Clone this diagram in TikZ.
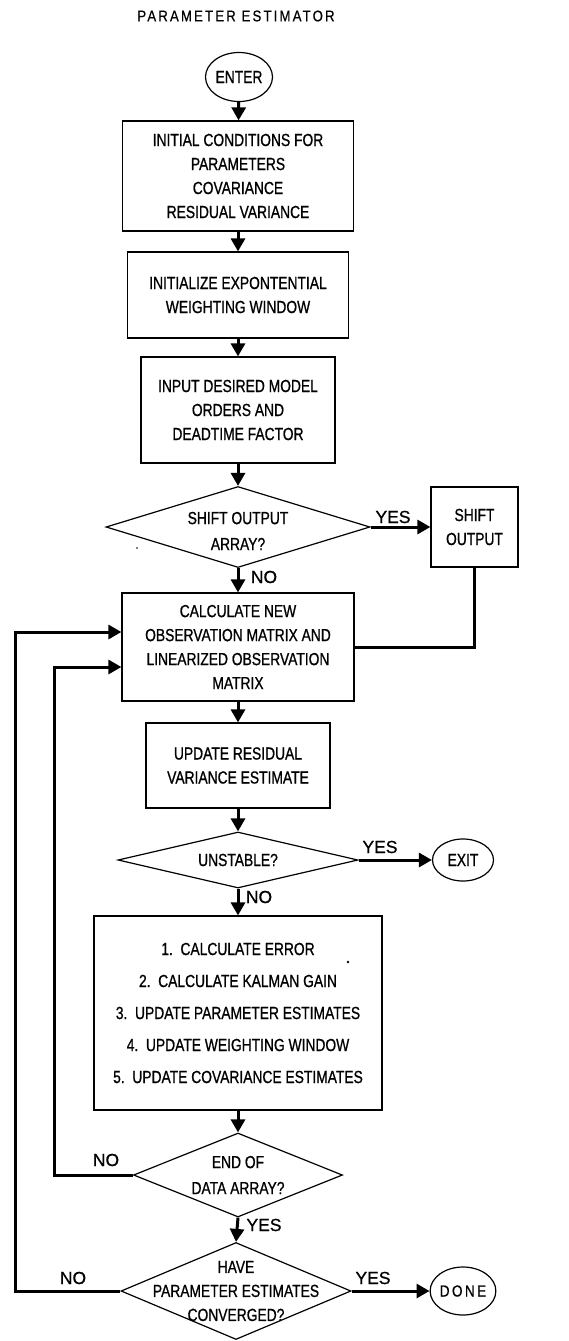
\documentclass[tikz,border=0pt]{standalone}
\usepackage{fontspec}
\setmainfont{Liberation Sans}[FakeStretch=0.79,FakeBold=0.8]
\newfontfamily\labfont{Liberation Sans}[FakeBold=0.8]
\newfontfamily\titlefont{Liberation Sans}[FakeStretch=0.85,LetterSpace=14,FakeBold=0.5]
\newfontfamily\spacedfont{Liberation Sans}[FakeStretch=0.85,LetterSpace=15,FakeBold=0.6]
\usetikzlibrary{shapes.geometric,arrows.meta,calc}
\begin{document}
\begin{tikzpicture}[x=1pt,y=-1pt,
  box/.style={draw, line width=1.2pt, inner sep=0pt, align=center, font=\fontsize{17.5}{24}\selectfont},
  dec/.style={draw, diamond, line width=1.2pt, inner sep=0pt},
  dtext/.style={inner sep=0pt, align=center, font=\fontsize{17.5}{26}\selectfont},
  term/.style={draw, ellipse, line width=1.2pt, inner sep=0pt, font=\fontsize{17.5}{20}\selectfont},
  flow/.style={line width=3pt, -{Triangle[length=13pt,width=14pt]}},
  plain/.style={line width=3pt},
  lab/.style={inner sep=0pt, font=\labfont\fontsize{17.5}{20}\selectfont}]
\useasboundingbox (0,0) rectangle (569,1341);
\fill[white] (0,0) rectangle (569,1341);

\node[inner sep=0pt, font=\titlefont\fontsize{15.5}{18}\selectfont] (title) at (236,16) {PARAMETER ESTIMATOR};

\node[term, minimum width=67pt, minimum height=49pt] (enter) at (239,77) {ENTER};
\node[box, minimum width=231pt, minimum height=110pt] (b1) at (238,176)
  {INITIAL CONDITIONS FOR\\PARAMETERS\\COVARIANCE\\RESIDUAL VARIANCE};
\node[box, minimum width=221pt, minimum height=86pt] (b2) at (238,295)
  {INITIALIZE EXPONTENTIAL\\WEIGHTING WINDOW};
\node[box, minimum width=194pt, minimum height=106pt] (b3) at (238,410)
  {INPUT DESIRED MODEL\\ORDERS AND\\DEADTIME FACTOR};
\node[dec, minimum width=264pt, minimum height=81pt] (d1) at (238,527) {};
\node[dtext] (d1t) at (238,531) {SHIFT OUTPUT\\ARRAY?};
\node[box, minimum width=87pt, minimum height=80pt] (shift) at (474.5,527) {SHIFT\\OUTPUT};
\node[box, minimum width=232pt, minimum height=108pt] (b4) at (238,647)
  {CALCULATE NEW\\OBSERVATION MATRIX AND\\LINEARIZED OBSERVATION\\MATRIX};
\node[box, minimum width=184pt, minimum height=85pt] (b5) at (238,765.5)
  {UPDATE RESIDUAL\\VARIANCE ESTIMATE};
\node[dec, minimum width=240pt, minimum height=56pt] (d2) at (238,860) {};
\node[dtext] (d2t) at (238,860) {UNSTABLE?};
\node[term, minimum width=61pt, minimum height=42pt] (exit) at (463,860) {EXIT};
\node[box, minimum width=288pt, minimum height=194pt, font=\fontsize{17.5}{32}\selectfont] (b6) at (238,1013)
  {1.\ \ CALCULATE ERROR\\2.\ \ CALCULATE KALMAN GAIN\\3.\ \ UPDATE PARAMETER ESTIMATES\\4.\ \ UPDATE WEIGHTING WINDOW\\5.\ \ UPDATE COVARIANCE ESTIMATES};
\node[dec, minimum width=209pt, minimum height=84pt] (d3) at (238,1175) {};
\node[dtext] (d3t) at (238,1175) {END OF\\DATA ARRAY?};
\node[dec, minimum width=230pt, minimum height=97pt] (d4) at (236,1291) {};
\node[dtext, font=\fontsize{17.5}{24}\selectfont] (d4t) at (236,1291) {HAVE\\PARAMETER ESTIMATES\\CONVERGED?};
\node[term, minimum width=62pt, minimum height=48pt, font=\spacedfont\fontsize{16}{20}\selectfont] (done) at (463,1291) {DONE};

\coordinate (loopA) at (54,1175);
\coordinate (loopB) at (15,1291);

\draw[flow] (enter) -- (b1);
\draw[flow] (b1) -- (b2);
\draw[flow] (b2) -- (b3);
\draw[flow] (b3) -- (d1.north);
\draw[flow] (d1.south) -- (b4);
\draw[flow] (d1.east) -- (shift);
\draw[plain] (shift.south) |- (b4.east);
\draw[flow] (b4) -- (b5);
\draw[flow] (b5) -- (d2.north);
\draw[flow] (d2.east) -- (exit);
\draw[flow] (d2.south) -- (b6);
\draw[flow] (b6) -- (d3.north);
\draw[flow] (d3.south) -- (d4.north);
\draw[flow] (d4.east) -- (done);
\draw[flow] (d3.west) -- (loopA) |- ([yshift=-20pt]b4.west);
\draw[flow] (d4.west) -- (loopB) |- ([yshift=15pt]b4.west);

\node[lab] (y1) at (393,517) {YES};
\node[lab] (n1) at (264,577) {NO};
\node[lab] (y2) at (380,847) {YES};
\node[lab] (n2) at (259,897) {NO};
\node[lab] (n3) at (106,1160) {NO};
\node[lab] (y3) at (264,1225) {YES};
\node[lab] (n4) at (73,1278) {NO};
\node[lab] (y4) at (373,1278) {YES};

\fill (348,962) circle (1.4pt);
\fill (137,548) circle (0.8pt);
\end{tikzpicture}
\end{document}
